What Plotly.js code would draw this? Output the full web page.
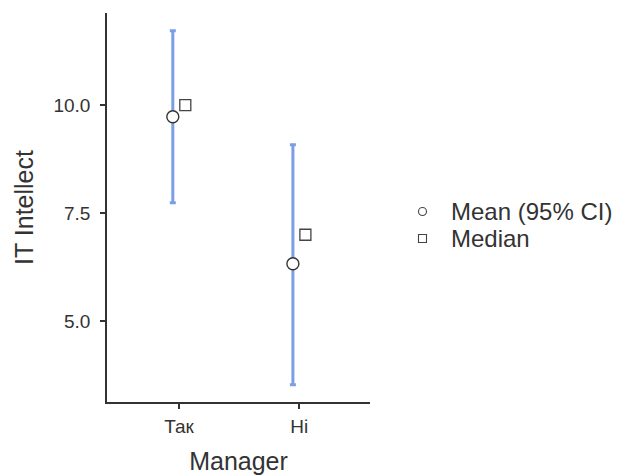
<!DOCTYPE html>
<html>
<head>
<meta charset="utf-8">
<script src="https://cdn.plot.ly/plotly-3.0.1.min.js"></script>
<style>
  html, body { margin: 0; padding: 0; background: #ffffff; }
  #chart { width: 620px; height: 475px; }
</style>
</head>
<body>
<div id="chart"></div>
<script>
// Group labels on the x axis
const categories = ['Так', 'Ні'];

// Mean with 95% confidence interval per group
const means = [9.73, 6.33];
const ciLower = [7.74, 3.53];
const ciUpper = [11.72, 9.08];

// Median per group
const medians = [10.0, 7.0];

// Y axis ticks
const yTickVals = [5.0, 7.5, 10.0];

// Small horizontal dodge so mean and median sit side by side
const dodge = 0.052;
const positions = categories.map((_, i) => i);

const fontFamily = '"Liberation Sans", Arial, Helvetica, sans-serif';
const textColor = '#333333';
const axisColor = '#333333';

const meanTrace = {
  type: 'scatter',
  mode: 'markers',
  name: 'Mean (95% CI)',
  x: positions.map(p => p - dodge),
  y: means,
  error_y: {
    type: 'data',
    symmetric: false,
    array: ciUpper.map((u, i) => u - means[i]),
    arrayminus: ciLower.map((l, i) => means[i] - l),
    color: '#7b9fe6',
    thickness: 3,
    width: 3
  },
  marker: {
    symbol: 'circle',
    size: 12,
    color: '#ffffff',
    line: { color: '#333333', width: 1.4 }
  },
  showlegend: false
};

const medianTrace = {
  type: 'scatter',
  mode: 'markers',
  name: 'Median',
  x: positions.map(p => p + dodge),
  y: medians,
  marker: {
    symbol: 'square',
    size: 11,
    color: '#ffffff',
    line: { color: '#444444', width: 1.3 }
  },
  showlegend: false
};

// Compact key to the right of the plot: small open symbols + labels
const keyRows = [
  { label: meanTrace.name, shape: 'circle', y: 0.4897 },
  { label: medianTrace.name, shape: 'rect', y: 0.4203 }
];
const keySymbolX = 1.1996;
const keyTextX = 1.3004;

const keyShapes = keyRows.map(r => ({
  type: r.shape,
  xref: 'paper', yref: 'paper',
  xsizemode: 'pixel', ysizemode: 'pixel',
  xanchor: keySymbolX, yanchor: r.y,
  x0: -4, x1: 4, y0: -4, y1: 4,
  line: { color: '#444444', width: 1.1 },
  fillcolor: '#ffffff'
}));

const keyLabels = keyRows.map(r => ({
  xref: 'paper', yref: 'paper',
  x: keyTextX, y: r.y,
  xanchor: 'left', yanchor: 'middle',
  text: r.label,
  showarrow: false,
  font: { size: 24, color: textColor }
}));

const layout = {
  width: 620,
  height: 475,
  margin: { l: 107, r: 250, t: 13, b: 73 },
  paper_bgcolor: '#ffffff',
  plot_bgcolor: '#ffffff',
  font: { family: fontFamily, color: textColor },
  showlegend: false,
  shapes: keyShapes,
  annotations: keyLabels,
  xaxis: {
    range: [-0.6, 1.59],
    tickmode: 'array',
    tickvals: positions,
    ticktext: categories,
    showgrid: false,
    zeroline: false,
    showline: true,
    linecolor: axisColor,
    linewidth: 1.8,
    ticks: 'outside',
    ticklen: 5,
    tickwidth: 1.8,
    tickcolor: axisColor,
    ticklabelstandoff: 1,
    tickfont: { size: 19, color: textColor },
    title: {
      text: 'Manager',
      font: { size: 25, color: textColor },
      standoff: 21
    }
  },
  yaxis: {
    range: [3.13, 12.13],
    tickmode: 'array',
    tickvals: yTickVals,
    tickformat: '.1f',
    showgrid: false,
    zeroline: false,
    showline: true,
    linecolor: axisColor,
    linewidth: 1.8,
    ticks: 'outside',
    ticklen: 5,
    tickwidth: 1.8,
    tickcolor: axisColor,
    ticklabelstandoff: 6,
    tickfont: { size: 19, color: textColor },
    title: {
      text: 'IT Intellect',
      font: { size: 25, color: textColor },
      standoff: 13
    }
  }
};

Plotly.newPlot('chart', [meanTrace, medianTrace], layout, { displayModeBar: false, staticPlot: true });
</script>
</body>
</html>
